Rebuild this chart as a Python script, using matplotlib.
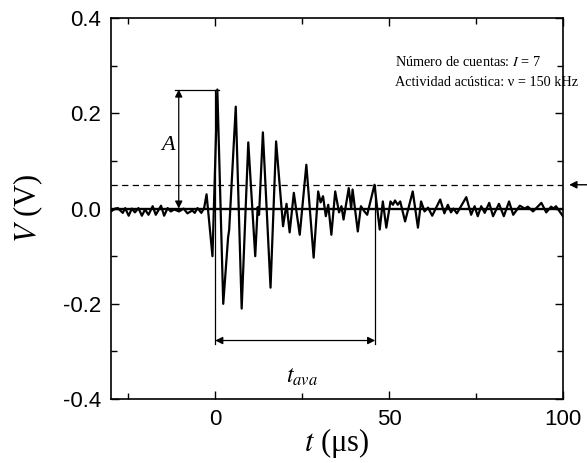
"""
Acoustic emission burst: voltage signal vs time with amplitude,
threshold and duration annotations
"""

import matplotlib
matplotlib.use('Agg')
import matplotlib.pyplot as plt
from matplotlib.ticker import MultipleLocator

# Waveform (time in us, voltage in V)
t_us = [-30.0, -28.8, -28.0, -26.6, -25.9, -24.9, -24.0, -23.1, -22.1, -21.1,
        -20.2, -19.2, -18.0, -17.1, -15.6, -14.7, -13.7, -12.8, -11.8, -10.4,
        -9.1, -8.0, -6.6, -5.9, -5.1, -4.0, -3.2, -2.5, -0.8, 0.6,
        2.3, 3.7, 4.0, 5.9, 7.6, 9.5, 11.5, 12.2, 12.6, 13.7,
        15.9, 17.5, 19.5, 20.5, 21.4, 22.6, 24.3, 26.2, 28.3, 29.6,
        30.3, 31.0, 31.8, 32.5, 33.4, 34.5, 35.6, 36.3, 36.9, 38.4,
        39.1, 39.5, 41.0, 41.9, 42.9, 43.7, 45.8, 47.3, 48.2, 49.2,
        50.4, 51.1, 51.7, 52.5, 53.2, 54.6, 56.8, 58.3, 59.2, 60.2,
        61.2, 62.4, 64.7, 65.9, 66.9, 67.8, 68.5, 69.5, 72.2, 73.6,
        74.6, 75.5, 76.5, 77.5, 78.8, 79.9, 81.6, 83.0, 84.5, 85.7,
        87.6, 89.0, 89.9, 91.4, 93.8, 95.2, 96.6, 97.3, 98.0, 100.0]
volts = [-0.006, 0.000, 0.001, -0.009, 0.001, -0.015, 0.000, -0.008, 0.001, -0.015,
         -0.002, -0.013, 0.005, -0.013, 0.006, -0.015, 0.001, -0.006, -0.002, -0.006,
         0.000, -0.010, -0.004, -0.009, 0.001, -0.009, 0.001, 0.030, -0.100, 0.250,
         -0.200, -0.060, -0.045, 0.214, -0.210, 0.139, -0.100, 0.003, -0.013, 0.160,
         -0.166, 0.141, -0.037, 0.010, -0.050, 0.033, -0.055, 0.092, -0.103, 0.036,
         0.013, 0.026, -0.016, 0.008, -0.055, 0.036, -0.008, 0.005, -0.023, 0.043,
         0.000, 0.040, -0.048, 0.005, -0.006, -0.013, 0.050, -0.044, 0.015, -0.040,
         0.015, 0.008, 0.017, 0.008, 0.015, -0.027, 0.036, -0.040, 0.015, -0.006,
         0.002, -0.015, 0.019, -0.010, 0.008, -0.008, 0.000, -0.010, 0.024, -0.013,
         0.005, -0.016, 0.005, -0.009, 0.012, -0.016, 0.010, -0.016, 0.015, -0.013,
         0.006, 0.000, 0.004, -0.006, 0.012, -0.008, 0.004, 0.000, 0.005, -0.016]

# Annotation values
threshold = 0.05
amplitude = 0.25
t_start = 0.0
t_end = 46.0
duration_level = -0.277
counts = 7
freq_khz = 150


def plot_burst():
    plt.rcParams['mathtext.fontset'] = 'stix'
    fig = plt.figure(figsize=(5.87, 4.63), dpi=100)
    ax = fig.add_axes([0.189, 0.138, 0.77, 0.823])

    # Signal, baseline and threshold
    ax.plot(t_us, volts, color='black', linewidth=1.6, solid_joinstyle='round')
    ax.axhline(0, color='black', linewidth=1.7)
    ax.axhline(threshold, color='black', linewidth=0.9, linestyle=(0, (5, 3.5)))

    # Amplitude marker
    ax.plot([-11.5, 1.0], [amplitude, amplitude], color='black', linewidth=0.9)
    ax.annotate('', xy=(-10.5, amplitude), xytext=(-10.5, 0),
                arrowprops=dict(arrowstyle='<|-|>', color='black', lw=0.9,
                                mutation_scale=11, shrinkA=0, shrinkB=0))
    ax.text(-13.5, 0.132, 'A', fontsize=16, family='Liberation Serif',
            style='italic', ha='center', va='center')

    # Duration marker
    ax.plot([t_start, t_start], [amplitude, duration_level - 0.008],
            color='black', linewidth=0.9)
    ax.plot([t_end, t_end], [threshold, duration_level - 0.008],
            color='black', linewidth=0.9)
    ax.annotate('', xy=(t_end, duration_level), xytext=(t_start, duration_level),
                arrowprops=dict(arrowstyle='<|-|>', color='black', lw=0.9,
                                mutation_scale=11, shrinkA=0, shrinkB=0))
    ax.text(25.0, -0.352, r'$t_{ava}$', fontsize=17, ha='center', va='center')

    # Threshold arrow outside the axes
    ax.annotate('', xy=(101.8, threshold), xytext=(107.5, threshold),
                annotation_clip=False,
                arrowprops=dict(arrowstyle='-|>', color='black', lw=1.0,
                                mutation_scale=11, shrinkA=0, shrinkB=0))

    info = (f'Número de cuentas: $I$ = {counts}\n'
            f'Actividad acústica: ν = {freq_khz} kHz')
    ax.text(51.8, 0.286, info, fontsize=10.3, family='Liberation Serif',
            ha='left', va='center', linespacing=1.7)

    ax.set_xlim(-30, 100)
    ax.set_ylim(-0.4, 0.4)
    ax.xaxis.set_major_locator(MultipleLocator(50))
    ax.xaxis.set_minor_locator(MultipleLocator(25))
    ax.yaxis.set_major_locator(MultipleLocator(0.2))
    ax.yaxis.set_minor_locator(MultipleLocator(0.1))
    ax.yaxis.set_major_formatter(plt.FuncFormatter(lambda y, p: f'{y:.1f}'))
    ax.tick_params(which='both', direction='in', top=True, right=True,
                   width=1.0, labelsize=16)
    ax.tick_params(which='major', length=6, pad=7)
    ax.tick_params(which='minor', length=4)
    for lab in ax.get_xticklabels() + ax.get_yticklabels():
        lab.set_family('Liberation Sans')
    for sp in ax.spines.values():
        sp.set_linewidth(1.2)

    ax.set_xlabel(r'$t$ (μs)', fontsize=22, family='Liberation Serif', labelpad=-3)
    ax.set_ylabel(r'$V$ (V)', fontsize=22, family='Liberation Serif', labelpad=13)

    plt.savefig('out.png', dpi=100)
    plt.close()


def run():
    plot_burst()


if __name__ == "__main__":
    run()
